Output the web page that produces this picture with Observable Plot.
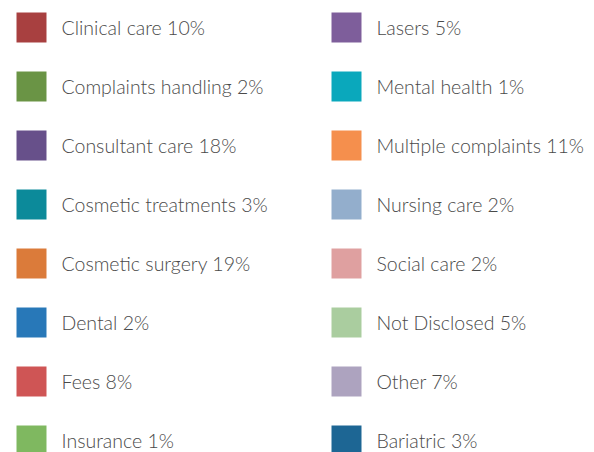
<!DOCTYPE html>
<html>
<head>
<meta charset="utf-8">
<script src="https://cdn.jsdelivr.net/npm/d3@7"></script>
<script src="https://cdn.jsdelivr.net/npm/@observablehq/plot@0.6"></script>
<style>
  html, body { margin: 0; padding: 0; background: #fff; }
  #chart { width: 594px; height: 452px; overflow: hidden; }
</style>
</head>
<body>
<div id="chart"></div>
<script>
const categories = [
  "Clinical care", "Complaints handling", "Consultant care", "Cosmetic treatments",
  "Cosmetic surgery", "Dental", "Fees", "Insurance",
  "Lasers", "Mental health", "Multiple complaints", "Nursing care",
  "Social care", "Not Disclosed", "Other", "Bariatric"
];
const percents = [10, 2, 18, 3, 19, 2, 8, 1, 5, 1, 11, 2, 2, 5, 7, 3];
const colors = [
  "#A84040", "#6A9445", "#67508A", "#0C8A9A",
  "#DB7B3A", "#2878B8", "#CF5555", "#7FB860",
  "#7E5E9B", "#0AA8BC", "#F58F4D", "#93AECC",
  "#DFA0A0", "#AACD9F", "#ADA3BF", "#1D6694"
];

const rowsPerCol = 8;
const data = categories.map((c, i) => ({
  label: `${c} ${percents[i]}%`,
  color: colors[i],
  col: Math.floor(i / rowsPerCol),
  row: i % rowsPerCol
}));

const chart = Plot.plot({
  width: 594,
  height: 452,
  margin: 0,
  style: { background: "#fff", fontFamily: "Lato, 'Open Sans', sans-serif" },
  x: { type: "point", domain: [0, 1], range: [31, 346], padding: 0, axis: null },
  y: { type: "point", domain: d3.range(rowsPerCol), range: [26, 440], padding: 0, axis: null },
  marks: [
    Plot.dot(data, {
      x: "col", y: "row", symbol: "square",
      r: 30 / Math.sqrt(Math.PI),
      fill: d => d.color, stroke: "none"
    }),
    Plot.text(data, {
      x: "col", y: "row", text: "label",
      textAnchor: "start", dx: 30, dy: 1,
      fontSize: 19.5, fill: "#4a4a4a", fontWeight: 300
    })
  ]
});
document.getElementById("chart").appendChild(chart);
</script>
</body>
</html>
